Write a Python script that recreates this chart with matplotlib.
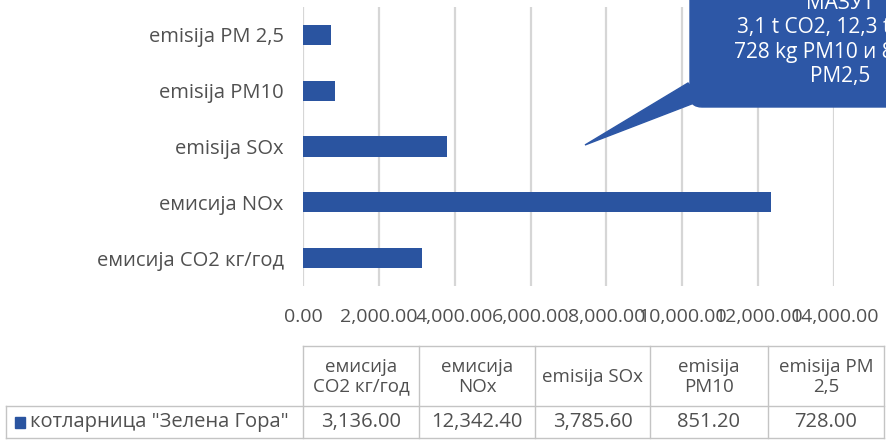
import matplotlib.pyplot as plt
from matplotlib.patches import FancyBboxPatch, Polygon, Rectangle
from matplotlib.lines import Line2D
from matplotlib.transforms import Affine2D

plt.rcParams['font.family'] = ['Open Sans', 'DejaVu Sans']

categories = ["емисија CO2 кг/год", "емисија NOx", "emisija SOx", "emisija PM10", "emisija PM 2,5"]
table_headers = ["емисија\nCO2 кг/год", "емисија\nNOx", "emisija SOx", "emisija\nPM10", "emisija PM\n2,5"]
values = [3136.00, 12342.40, 3785.60, 851.20, 728.00]
series_name = 'котларница "Зелена Гора"'
callout_text = "МАЗУТ\n3,1 t CO2, 12,3 t NOx,\n728 kg PM10 и 851 kg\nPM2,5"

bar_color = "#2A54A0"
box_color = "#2D57A6"
text_color = "#505050"
grid_color = "#D6D6D6"

W, H = 886, 442
fig = plt.figure(figsize=(W / 100, H / 100), dpi=100)
# pixel coordinates, origin top-left
px = Affine2D().scale(1 / W, -1 / H).translate(0, 1) + fig.transFigure

ax = fig.add_axes([303 / W, 1 - 286 / H, 531 / W, 279 / H])
ypos = list(range(len(categories)))
ax.barh(ypos, values, height=0.36, color=bar_color, zorder=3)
ax.set_xlim(0, 14000)
ax.set_ylim(-0.5, len(categories) - 0.5)
ax.set_xticks(range(0, 14001, 2000))
ax.set_xticklabels([f"{v:,.2f}" for v in range(0, 14001, 2000)])
ax.set_yticks(ypos)
ax.set_yticklabels(categories)
ax.grid(axis="x", color=grid_color, linewidth=1.6, zorder=0)
for s in ax.spines.values():
    s.set_visible(False)
ax.tick_params(axis="both", length=0, labelcolor=text_color)
ax.tick_params(axis="x", pad=15.5, labelsize=14)
ax.tick_params(axis="y", pad=14, labelsize=14.5)

# data table below the chart
col_edges = [303, 419, 535, 650, 768, 884]
top, mid, bot = 346, 406, 438
left = 6
border = "#C4C4C4"
for x in col_edges:
    fig.add_artist(Line2D([x, x], [top, bot], transform=px, color=border, lw=1))
fig.add_artist(Line2D([col_edges[0], col_edges[-1]], [top, top], transform=px, color=border, lw=1))
fig.add_artist(Line2D([left, col_edges[-1]], [mid, mid], transform=px, color=border, lw=1))
fig.add_artist(Line2D([left, col_edges[-1]], [bot, bot], transform=px, color=border, lw=1))
fig.add_artist(Line2D([left, left], [mid, bot], transform=px, color=border, lw=1))
for i in range(len(values)):
    cx = (col_edges[i] + col_edges[i + 1]) / 2
    fig.text(cx, (top + mid) / 2 + 1, table_headers[i], transform=px, ha="center", va="center",
             fontsize=13.5, color=text_color, linespacing=1.1)
    fig.text(cx, (mid + bot) / 2, f"{values[i]:,.2f}", transform=px, ha="center", va="center",
             fontsize=14.5, color=text_color)
fig.add_artist(Rectangle((15, 417), 10, 11, transform=px, color=bar_color))
fig.text(30, (mid + bot) / 2, series_name, transform=px, ha="left", va="center",
         fontsize=14.5, color=text_color)

# callout
fig.add_artist(Polygon([(585, 145), (688, 83), (702, 100)], closed=True, transform=px,
                       color=box_color, zorder=5))
fig.add_artist(FancyBboxPatch((702, -40), 240, 135, boxstyle="round,pad=12", transform=px,
                              color=box_color, zorder=5, mutation_aspect=1))
fig.text(840, 40, callout_text, transform=px, ha="center", va="center", fontsize=15,
         color="white", linespacing=1.2, zorder=6)

fig.savefig("out.png", dpi=100)
